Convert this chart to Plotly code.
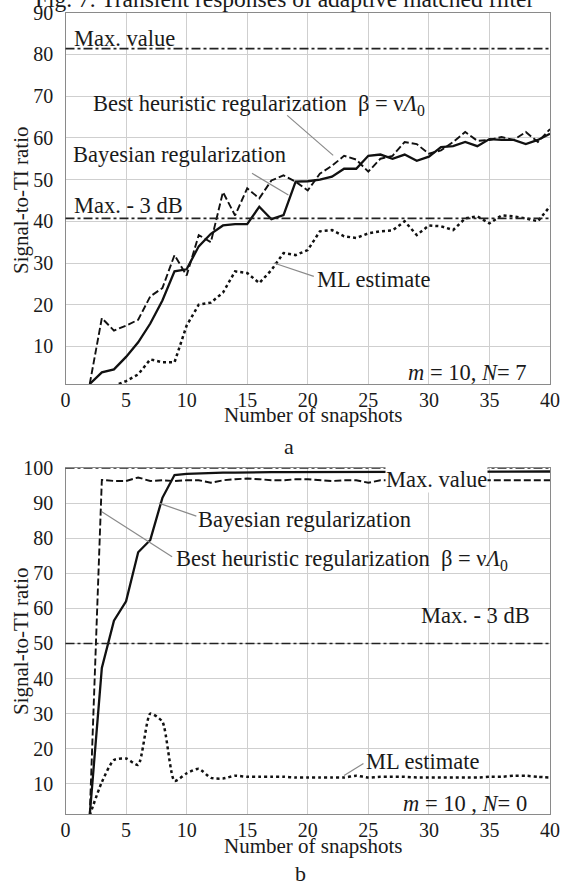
import plotly.graph_objects as go

# ---------------- data: panel a (m = 10, N = 7) ----------------
snap_a_bayes = list(range(2, 41))
bayes_a = [1, 3.8, 4.5, 7.5, 11, 15.5, 21, 28, 28.5, 34, 37, 39, 39.3, 39.3, 43.5, 40.5, 41.5,
           49.5, 49.6, 50, 50.7, 52.6, 52.6, 55.7, 56, 55, 56, 54.5, 55.5, 57.8, 58, 59, 58,
           59.7, 59.5, 59.5, 58.5, 59.5, 61]
snap_a_heur = list(range(2, 41))
heur_a = [1, 16.8, 13.8, 15, 16.4, 22, 24, 31.9, 27, 36.7, 35, 47, 41.4, 47.9, 45.5, 49.8, 51,
          49.5, 47.4, 51.4, 53.3, 55.7, 54.8, 51.9, 55, 55.7, 59, 58.5, 56.2, 57, 59, 61.4,
          59.3, 59.5, 60.2, 59.5, 61.4, 59, 62.1]
snap_a_ml = [4.4] + list(range(5, 41))
ml_a = [1, 1.7, 3.3, 6.9, 6.2, 6.2, 15, 20, 20.5, 22.9, 28, 27.6, 25.2, 28.3, 32.4, 31.9, 33.1,
        37.6, 37.9, 36.4, 36, 37.1, 37.6, 37.8, 40, 36.7, 39, 38.8, 37.9, 40.7, 41.2, 39.5,
        41.4, 41.2, 40.7, 40, 43.6]
max_a = 81.4
max3_a = 40.7

# ---------------- data: panel b (m = 10, N = 0) ----------------
snap_b_bayes = list(range(2, 41))
bayes_b = [1, 43, 56.5, 62, 76, 79.5, 91.5, 98, 98.3, 98.5, 98.6, 98.7, 98.7, 98.8, 98.8, 98.8,
           98.8, 98.8, 98.8, 98.8, 98.8, 98.8, 98.8, 98.8, 98.8, 98.8, 98.8, 98.8, 98.8, 98.8,
           98.8, 98.8, 98.8, 98.8, 98.8, 98.9, 99, 99, 99]
snap_b_heur = list(range(2, 41))
heur_b = [1, 96.6, 96.3, 96.3, 97.3, 96.3, 96.5, 96.3, 96.5, 96.5, 95.8, 96.5, 96.8, 97.0,
          96.8, 96.5, 96.5, 96.8, 96.8, 96.5, 96.3, 96.5, 96.5, 95.8, 96.5, 96.5, 96.5, 96.5,
          96.5, 96.5, 96.5, 96.5, 96.5, 96.5, 96.5, 96.5, 96.5, 96.5, 96.5]
snap_b_ml = list(range(2, 41))
ml_b = [1, 10.5, 16.8, 17.2, 15.4, 30, 27.7, 10.8, 13, 14.3, 11.7, 11.5, 12.3, 12, 12, 12, 12,
        11.8, 11.8, 11.8, 11.8, 11.8, 12.3, 11.8, 12, 12, 12, 11.8, 11.8, 11.8, 11.8, 11.8,
        11.8, 12, 12, 12.3, 12.3, 12, 11.8]
max_b = 100
max3_b = 50

x_ticks = [0, 5, 10, 15, 20, 25, 30, 35, 40]
y_ticks_a = [10, 20, 30, 40, 50, 60, 70, 80, 90]
y_ticks_b = [10, 20, 30, 40, 50, 60, 70, 80, 90, 100]

W, H = 568, 882
FONT = '"Liberation Serif", "Times New Roman", serif'
TXT = "#1a1a1a"
LBL = 22.5


def px_x(p):
    return p / W


def px_y(p):
    return 1 - p / H


fig = go.Figure()

# panel a traces
fig.add_trace(go.Scatter(x=snap_a_ml, y=ml_a, mode="lines", line=dict(color="#111", width=2.5, dash="dot"),
                         xaxis="x", yaxis="y"))
fig.add_trace(go.Scatter(x=snap_a_heur, y=heur_a, mode="lines", line=dict(color="#111", width=1.9, dash="7px,3px"),
                         xaxis="x", yaxis="y"))
fig.add_trace(go.Scatter(x=snap_a_bayes, y=bayes_a, mode="lines", line=dict(color="#111", width=2.3),
                         xaxis="x", yaxis="y"))
# panel b traces
fig.add_trace(go.Scatter(x=snap_b_ml, y=ml_b, mode="lines", line=dict(color="#111", width=2.5, dash="dot", shape="spline", smoothing=0.6),
                         xaxis="x2", yaxis="y2"))
fig.add_trace(go.Scatter(x=snap_b_heur, y=heur_b, mode="lines", line=dict(color="#111", width=1.9, dash="7px,3px"),
                         xaxis="x2", yaxis="y2"))
fig.add_trace(go.Scatter(x=snap_b_bayes, y=bayes_b, mode="lines", line=dict(color="#111", width=2.3),
                         xaxis="x2", yaxis="y2"))

axis_common = dict(showgrid=True, gridcolor="#cfcfcf", gridwidth=1.3, zeroline=False,
                   showline=True, linecolor="#8a8a8a", linewidth=1.3, mirror=True, automargin=False,
                   tickfont=dict(family=FONT, size=20, color=TXT), ticks="")

XL, XR = 65.5, 550
fig.update_layout(
    template="none",
    width=W, height=H, margin=dict(l=0, r=0, t=0, b=0, autoexpand=False),
    paper_bgcolor="white", plot_bgcolor="white", showlegend=False,
    xaxis=dict(domain=[px_x(XL), px_x(XR)], range=[0, 40], tickvals=x_ticks, anchor="y",
               ticklabelstandoff=-2, **axis_common),
    yaxis=dict(domain=[px_y(384), px_y(12.7)], range=[1, 90], tickvals=y_ticks_a, anchor="x",
               ticklabelstandoff=7, **axis_common),
    xaxis2=dict(domain=[px_x(XL), px_x(XR)], range=[0, 40], tickvals=x_ticks, anchor="y2",
                ticklabelstandoff=-2, **axis_common),
    yaxis2=dict(domain=[px_y(814), px_y(468)], range=[1.4, 100], tickvals=y_ticks_b, anchor="x2",
                ticklabelstandoff=7, **axis_common),
)

# reference dash-dot lines
for xr, yr, val in [("x", "y", max_a), ("x", "y", max3_a), ("x2", "y2", max_b), ("x2", "y2", max3_b)]:
    fig.add_shape(type="line", xref=xr + " domain", yref=yr, x0=0, x1=1, y0=val, y1=val,
                  line=dict(color="#222", width=1.6, dash="dashdot"), layer="above")

leader = dict(color="#8a8a8a", width=1.2)
# leader lines panel a
fig.add_shape(type="line", xref="x", yref="y", x0=18.3, y0=65.4, x1=22.1, y1=55.8, line=leader)
fig.add_shape(type="line", xref="x", yref="y", x0=15.4, y0=51.5, x1=18.4, y1=46.3, line=leader)
fig.add_shape(type="line", xref="x", yref="y", x0=17.2, y0=30.0, x1=20.5, y1=26.8, line=leader)
# leader lines panel b
fig.add_shape(type="line", xref="x2", yref="y2", x0=7.7, y0=90.0, x1=10.8, y1=86.3, line=leader)
fig.add_shape(type="line", xref="x2", yref="y2", x0=3.0, y0=87.5, x1=8.8, y1=74.7, line=leader)
fig.add_shape(type="line", xref="x2", yref="y2", x0=23.0, y0=12.4, x1=24.6, y1=15.8, line=leader)


def label(text, x, y, xref, yref, xanchor="left", size=LBL, bg=None, yanchor="middle"):
    fig.add_annotation(text=text, x=x, y=y, xref=xref, yref=yref, xanchor=xanchor, yanchor=yanchor,
                       showarrow=False, font=dict(family=FONT, size=size, color=TXT),
                       bgcolor=bg, borderpad=0)


BH = "Best heuristic regularization  \u03b2 = \u03bd<i>\u039b</i><sub>0</sub>"
# panel a labels
label("Max. value", 0.65, 83.8, "x", "y")
label(BH, 2.2, 67.9, "x", "y")
label("Bayesian regularization", 0.55, 55.9, "x", "y")
label("Max. - 3 dB", 0.6, 43.7, "x", "y")
label("ML estimate", 20.7, 26.0, "x", "y")
label("<i>m</i> = 10, <i>N</i>= 7", 38.2, 3.8, "x", "y", xanchor="right")

# panel b labels
label("Max. value", 26.4, 96.6, "x2", "y2", bg="white", xanchor="left")
label("Bayesian regularization", 10.85, 85.2, "x2", "y2")
label(BH, 9.05, 73.8, "x2", "y2")
label("Max. - 3 dB", 38.4, 57.9, "x2", "y2", xanchor="right")
label("ML estimate", 24.7, 16.4, "x2", "y2")
label("<i>m</i> = 10 , <i>N</i>= 0", 38.2, 4.5, "x2", "y2", xanchor="right")


def plabel(text, xp, yp, size, angle=0):
    fig.add_annotation(text=text, x=px_x(xp), y=px_y(yp), xref="paper", yref="paper",
                       xanchor="center", yanchor="middle", textangle=angle, showarrow=False,
                       font=dict(family=FONT, size=size, color=TXT))


# axis titles
for yc in (200, 641):
    plabel("Signal-to-TI ratio", 21, yc, 21, angle=-90)
for yc in (415, 846):
    plabel("Number of snapshots", 313, yc, 21)

plabel("a", 289, 446, 22)
plabel("b", 300, 873, 22)
plabel("Fig. 7. Transient responses of adaptive matched filter", 284.5, -1, 23.5)

fig.write_html("out.html", config={"displayModeBar": False},
               post_script="document.body.style.margin='0';document.body.style.padding='0';"
                           "document.body.style.overflow='hidden';")
